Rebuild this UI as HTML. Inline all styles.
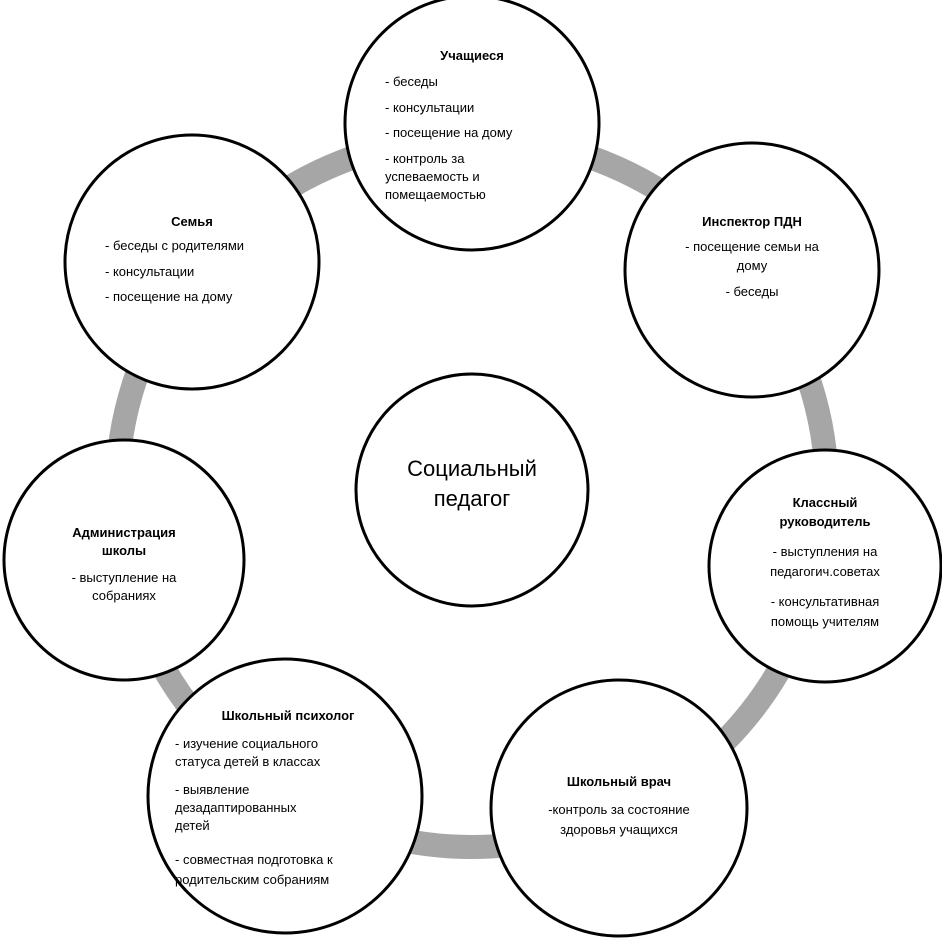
<!DOCTYPE html>
<html><head><meta charset="utf-8"><style>
html,body{margin:0;padding:0;background:#fff;}
svg{display:block;font-family:"Liberation Sans",sans-serif;}
text{font-size:13px;fill:#000;text-anchor:middle;}
.b{font-weight:bold;}
.l{text-anchor:start;}
.big{font-size:22px;}
</style></head><body>
<svg width="942" height="938" viewBox="0 0 942 938">
<circle cx="472" cy="492" r="355" fill="none" stroke="#a6a6a6" stroke-width="24"/>
<g fill="#fff" stroke="#000" stroke-width="3">
<circle cx="472" cy="123" r="127"/>
<circle cx="752" cy="270" r="127"/>
<circle cx="825" cy="566" r="116"/>
<circle cx="619" cy="808" r="128"/>
<circle cx="285" cy="796" r="137"/>
<circle cx="124" cy="560" r="120"/>
<circle cx="192" cy="262" r="127"/>
<circle cx="472" cy="490" r="116"/>
</g>

<text class="big" x="472" y="476">Социальный</text>
<text class="big" x="472" y="506">педагог</text>

<text x="472" y="60" class="b">Учащиеся</text>
<text class="l" x="385" y="86">- беседы</text>
<text class="l" x="385" y="112">- консультации</text>
<text class="l" x="385" y="137">- посещение на дому</text>
<text class="l" x="385" y="163">- контроль за</text>
<text class="l" x="385" y="181">успеваемость и</text>
<text class="l" x="385" y="199">помещаемостью</text>

<text class="b" x="192" y="226">Семья</text>
<text class="l" x="105" y="250">- беседы с родителями</text>
<text class="l" x="105" y="276">- консультации</text>
<text class="l" x="105" y="301">- посещение на дому</text>

<text class="b" x="124" y="537">Администрация</text>
<text class="b" x="124" y="555">школы</text>
<text x="124" y="582">- выступление на</text>
<text x="124" y="600">собраниях</text>

<text class="b" x="288" y="720">Школьный психолог</text>
<text class="l" x="175" y="748">- изучение социального</text>
<text class="l" x="175" y="766">статуса детей в классах</text>
<text class="l" x="175" y="794">- выявление</text>
<text class="l" x="175" y="812">дезадаптированных</text>
<text class="l" x="175" y="830">детей</text>
<text class="l" x="175" y="864">- совместная подготовка к</text>
<text class="l" x="175" y="884">родительским собраниям</text>

<text class="b" x="619" y="786">Школьный врач</text>
<text x="619" y="814">-контроль за состояние</text>
<text x="619" y="834">здоровья учащихся</text>

<text class="b" x="825" y="507">Классный</text>
<text class="b" x="825" y="526">руководитель</text>
<text x="825" y="556">- выступления на</text>
<text x="825" y="576">педагогич.советах</text>
<text x="825" y="606">- консультативная</text>
<text x="825" y="626">помощь учителям</text>

<text class="b" x="752" y="226">Инспектор ПДН</text>
<text x="752" y="251">- посещение семьи на</text>
<text x="752" y="270">дому</text>
<text x="752" y="296">- беседы</text>
</svg>
</body></html>
